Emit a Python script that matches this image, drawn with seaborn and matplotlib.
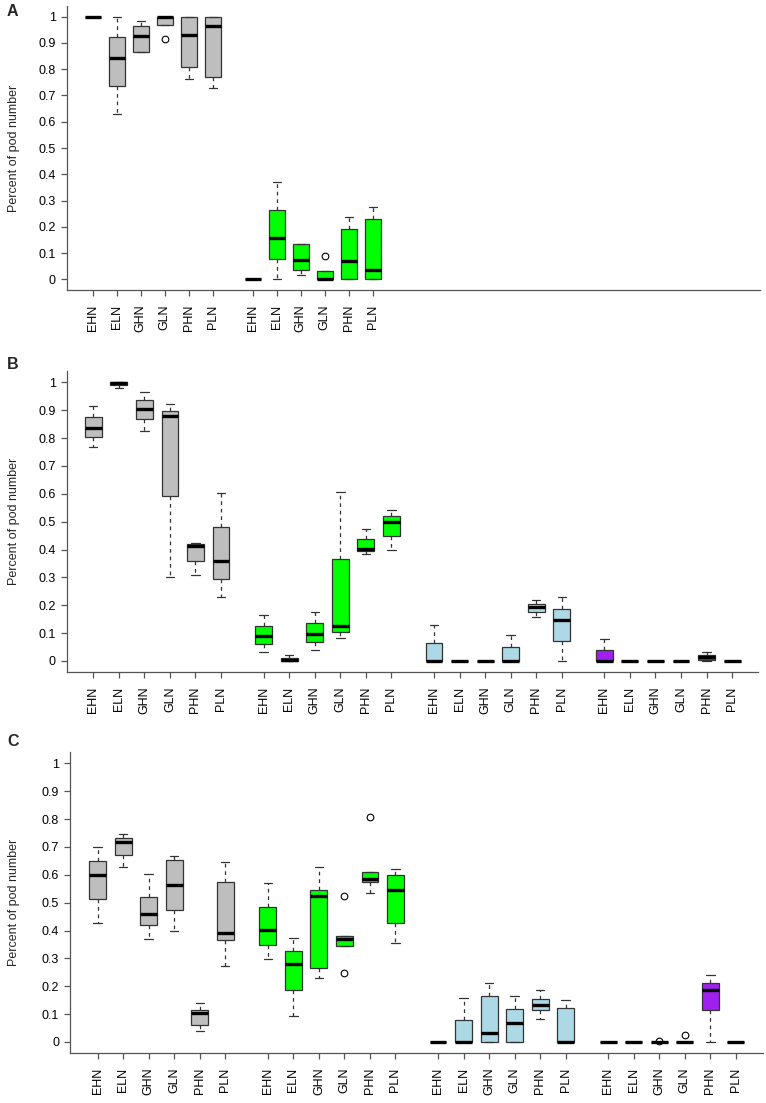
import numpy as np
import pandas as pd
import matplotlib
matplotlib.use("Agg")
import matplotlib.pyplot as plt
import seaborn as sns

sns.set_style("ticks")
plt.rcParams["font.family"] = ["Liberation Sans", "DejaVu Sans"]

cats = ["EHN", "ELN", "GHN", "GLN", "PHN", "PLN"]
group_colors = ["#BEBEBE", "#00FF00", "#ADD8E6", "#A020F0"]

# five-number summaries per category: [whisker_low, q1, median, q3, whisker_high]
A_gray = [[1.0, 1.0, 1.0, 1.0, 1.0],
          [0.628, 0.736, 0.844, 0.921, 1.0],
          [0.867, 0.867, 0.926, 0.965, 0.985],
          [0.968, 0.968, 1.0, 1.0, 1.0],
          [0.763, 0.808, 0.930, 1.0, 1.0],
          [0.727, 0.771, 0.965, 1.0, 1.0]]
A_green = [[0.0, 0.0, 0.0, 0.0, 0.0],
           [0.0, 0.079, 0.156, 0.264, 0.372],
           [0.015, 0.036, 0.075, 0.133, 0.133],
           [0.0, 0.0, 0.0, 0.033, 0.033],
           [0.0, 0.0, 0.071, 0.193, 0.239],
           [0.0, 0.0, 0.037, 0.230, 0.275]]

B_gray = [[0.768, 0.803, 0.837, 0.874, 0.915],
          [0.980, 0.990, 0.996, 1.0, 1.0],
          [0.827, 0.867, 0.906, 0.935, 0.964],
          [0.303, 0.592, 0.879, 0.898, 0.921],
          [0.307, 0.360, 0.411, 0.419, 0.424],
          [0.230, 0.294, 0.359, 0.482, 0.604]]
B_green = [[0.031, 0.060, 0.090, 0.127, 0.166],
           [0.0, 0.0, 0.003, 0.012, 0.022],
           [0.038, 0.068, 0.097, 0.135, 0.177],
           [0.084, 0.103, 0.126, 0.365, 0.605],
           [0.384, 0.395, 0.402, 0.438, 0.475],
           [0.400, 0.450, 0.500, 0.522, 0.542]]
B_blue = [[0.0, 0.0, 0.0, 0.065, 0.129],
          [0.0, 0.0, 0.0, 0.0, 0.0],
          [0.0, 0.0, 0.0, 0.0, 0.0],
          [0.0, 0.0, 0.0, 0.049, 0.094],
          [0.159, 0.177, 0.194, 0.206, 0.219],
          [0.0, 0.073, 0.147, 0.188, 0.231]]
B_purple = [[0.0, 0.0, 0.0, 0.039, 0.078],
            [0.0, 0.0, 0.0, 0.0, 0.0],
            [0.0, 0.0, 0.0, 0.0, 0.0],
            [0.0, 0.0, 0.0, 0.0, 0.0],
            [0.0, 0.004, 0.014, 0.020, 0.033],
            [0.0, 0.0, 0.0, 0.0, 0.0]]

C_gray = [[0.428, 0.513, 0.599, 0.648, 0.701],
          [0.627, 0.672, 0.718, 0.733, 0.748],
          [0.370, 0.420, 0.461, 0.522, 0.603],
          [0.398, 0.475, 0.562, 0.654, 0.666],
          [0.039, 0.061, 0.104, 0.115, 0.140],
          [0.273, 0.365, 0.391, 0.574, 0.647]]
C_green = [[0.297, 0.348, 0.401, 0.486, 0.572],
           [0.093, 0.188, 0.281, 0.328, 0.374],
           [0.228, 0.266, 0.525, 0.545, 0.629],
           [0.346, 0.346, 0.368, 0.380, 0.380],
           [0.533, 0.573, 0.586, 0.611, 0.611],
           [0.354, 0.426, 0.545, 0.598, 0.620]]
C_blue = [[0.0, 0.0, 0.0, 0.0, 0.0],
          [0.0, 0.0, 0.0, 0.079, 0.159],
          [0.0, 0.0, 0.031, 0.166, 0.211],
          [0.0, 0.0, 0.069, 0.118, 0.166],
          [0.084, 0.114, 0.133, 0.153, 0.185],
          [0.0, 0.0, 0.0, 0.122, 0.150]]
C_purple = [[0.0, 0.0, 0.0, 0.0, 0.0],
            [0.0, 0.0, 0.0, 0.0, 0.0],
            [0.0, 0.0, 0.0, 0.0, 0.0],
            [0.0, 0.0, 0.0, 0.0, 0.0],
            [0.0, 0.116, 0.185, 0.211, 0.240],
            [0.0, 0.0, 0.0, 0.0, 0.0]]

# outliers: (panel, group, category) -> value
out_low = {("A", 0, 3): 0.915, ("C", 1, 3): 0.249}
out_high = {("A", 1, 3): 0.088, ("C", 1, 3): 0.524, ("C", 1, 4): 0.806,
            ("C", 3, 2): 0.003, ("C", 3, 3): 0.024}

panels = {
    "A": [A_gray, A_green],
    "B": [B_gray, B_green, B_blue, B_purple],
    "C": [C_gray, C_green, C_blue, C_purple],
}
yticks = [0, 0.1, 0.2, 0.3, 0.4, 0.5, 0.6, 0.7, 0.8, 0.9, 1]
ytick_labels = ["0", "0.1", "0.2", "0.3", "0.4", "0.5", "0.6", "0.7", "0.8", "0.9", "1"]

GROUP_STEP = 6 + 2 / 3.0
W, H = 766, 1103
# axes boxes in pixels: left, top, right, bottom ; xlims ; panel-letter top
layout = {
    "A": dict(box=(67, 6.2, 760, 289.8), xlim=(-1.07, 27.8), letter=4),
    "B": dict(box=(66.7, 371.2, 757.7, 672.1), xlim=(-1.04, 26.0), letter=357),
    "C": dict(box=(70.3, 752.2, 762.7, 1053.1), xlim=(-1.07, 26.05), letter=734),
}
LINE = "#333333"
FS = 9

fig = plt.figure(figsize=(W / 100, H / 100), dpi=100)

for pname, groups in panels.items():
    l, t, r, b = layout[pname]["box"]
    ax = fig.add_axes([l / W, 1 - b / H, (r - l) / W, (b - t) / H])
    tick_pos, tick_lab = [], []
    for g, stats in enumerate(groups):
        rows = []
        for i, (lo, q1, med, q3, hi) in enumerate(stats):
            pos = g * GROUP_STEP + i
            vals = [lo, lo, q1, q1, med, q3, q3, hi, hi]
            if (pname, g, i) in out_low:
                vals[0] = out_low[(pname, g, i)]
            if (pname, g, i) in out_high:
                vals[-1] = out_high[(pname, g, i)]
            rows += [(pos, v) for v in vals]
            tick_pos.append(pos)
            tick_lab.append(cats[i])
        df = pd.DataFrame(rows, columns=["pos", "value"])
        sns.boxplot(data=df, x="pos", y="value", native_scale=True, ax=ax,
                    color=group_colors[g], saturation=1, width=0.66,
                    linecolor=LINE, linewidth=0.9, whis=1.5,
                    boxprops=dict(edgecolor=LINE, linewidth=0.9),
                    whiskerprops=dict(color=LINE, linestyle=(0, (3, 3)), linewidth=0.9),
                    capprops=dict(color=LINE, linewidth=0.9),
                    medianprops=dict(color="black", linewidth=2.4, solid_capstyle="butt"),
                    flierprops=dict(marker="o", markerfacecolor="none",
                                    markeredgecolor="black", markersize=4.8,
                                    markeredgewidth=0.8))
    ax.set_xlim(*layout[pname]["xlim"])
    ax.set_ylim(-0.04, 1.04)
    ax.set_xticks(tick_pos)
    ax.set_xticklabels(tick_lab, rotation=90, fontsize=FS)
    ax.set_yticks(yticks)
    ax.set_yticklabels(ytick_labels, fontsize=FS)
    ax.set_xlabel("")
    ax.set_ylabel("Percent of pod number", fontsize=FS)
    ax.yaxis.set_label_coords((20 - l) / (r - l), 0.5)
    for s in ["top", "right"]:
        ax.spines[s].set_visible(False)
    for s in ["left", "bottom"]:
        ax.spines[s].set_color("#555555")
        ax.spines[s].set_linewidth(0.9)
    ax.tick_params(axis="both", direction="out", length=4.5, width=0.9,
                   color="#555555", labelcolor="black")
    ax.tick_params(axis="x", pad=6)
    ax.tick_params(axis="y", pad=3.5)
    ax.grid(False)
    fig.text(7 / W, 1 - layout[pname]["letter"] / H, pname, fontsize=11.5,
             fontweight="bold", ha="left", va="top")

fig.savefig("out.png", dpi=100, facecolor="white")
